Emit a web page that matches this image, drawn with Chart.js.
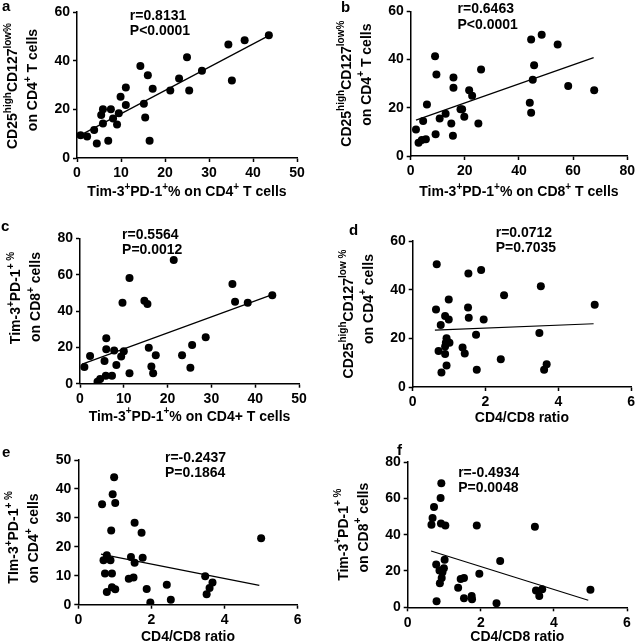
<!DOCTYPE html>
<html><head><meta charset="utf-8">
<script src="https://cdn.jsdelivr.net/npm/chart.js@4/dist/chart.umd.min.js"></script>
<style>
html,body{margin:0;padding:0;background:#fff;}
body{width:638px;height:644px;position:relative;overflow:hidden;}
canvas{position:absolute;}
</style></head><body>
<canvas id="pa"></canvas><canvas id="pb"></canvas><canvas id="pc"></canvas>
<canvas id="pd"></canvas><canvas id="pe"></canvas><canvas id="pf"></canvas>
<script>
// ---- Data ----
// a: Tim-3+PD-1+% on CD4+ T cells vs CD25high CD127low % on CD4+ T cells
const aX = [0.8,2.3,3.9,4.5,5.5,5.9,5.9,7.1,7.7,8.2,9.1,9.5,9.9,11.1,11.1,14.4,15.2,15.5,16.1,16.5,17.2,21.2,23.2,25.0,25.5,28.4,34.4,35.2,38.1,43.6];
const aY = [9.4,8.8,11.5,6.0,17.7,20.0,14.2,7.1,20.0,16.2,13.8,18.4,25.2,21.8,29.0,37.8,22.3,16.6,34.0,7.1,28.5,27.7,32.7,41.4,27.7,35.9,46.6,31.8,48.4,50.4];
const aFitX = [0.8,43.6];
const aFitY = [9.4,50.3];
// b: Tim-3+PD-1+% on CD8+ T cells vs Treg %
const bX = [1.95,2.9,4.1,4.6,5.6,6.0,9.0,9.2,9.5,10.7,12.9,15.0,15.6,15.8,15.8,18.4,19.0,19.8,21.6,22.7,25.0,26.0,44.5,44.0,44.5,45.6,45.1,48.4,54.3,58.2,67.8];
const bY = [11.0,5.5,6.6,14.5,6.9,21.4,41.4,9.0,33.8,15.6,17.5,13.5,8.4,32.6,28.3,19.4,19.4,16.3,27.3,25.0,13.5,35.9,48.3,22.1,17.9,37.7,31.6,50.3,46.3,29.0,27.3];
const bFitX = [1.95,67.6];
const bFitY = [14.9,40.8];
// c: Tim-3+PD-1+% on CD4+ vs on CD8+
const cX = [1.0,2.3,4.0,4.6,5.6,5.9,6.0,6.0,7.3,7.8,8.3,9.4,9.7,10.0,11.3,11.3,14.7,15.4,15.7,16.3,16.7,17.3,21.4,23.3,25.2,25.6,28.7,34.8,35.4,38.3,43.9];
const cY = [9.2,15.2,1.1,2.6,12.5,4.4,25.0,18.9,4.4,18.2,10.3,14.9,44.6,17.8,58.2,5.7,45.7,43.9,19.8,9.4,5.7,15.6,68.1,15.6,8.8,21.3,25.5,54.9,45.1,44.6,48.6];
const cFitX = [0.5,43.9];
const cFitY = [10.8,49.0];
// d: CD4/CD8 ratio vs Treg %
const dX = [0.66,0.64,0.71,0.77,0.79,0.89,0.91,0.89,0.89,0.93,0.93,0.99,0.99,1.01,1.37,1.43,1.53,1.52,1.54,1.74,1.76,1.88,1.95,2.42,2.51,3.52,3.48,3.61,3.68,5.0];
const dY = [50.4,31.9,14.8,25.5,6.0,29.2,18.2,13.6,16.6,8.8,20.0,36.0,27.7,18.2,16.2,13.8,46.6,32.7,28.5,21.5,7.1,48.1,27.7,11.4,37.7,41.4,22.2,7.1,9.3,33.8];
const dFitX = [0.61,4.97];
const dFitY = [23.4,26.0];
// e: CD4/CD8 ratio vs Tim-3+PD-1+% on CD4+
const eX = [0.65,0.69,0.73,0.78,0.78,0.88,0.90,0.92,0.92,0.94,0.98,1.01,1.01,1.38,1.44,1.51,1.54,1.54,1.73,1.76,1.87,1.97,2.42,2.53,3.47,3.51,3.59,3.67,5.0];
const eY = [34.7,15.4,10.8,17.1,4.4,15.4,25.6,10.8,6.0,38.2,44.0,35.1,5.3,9.0,16.5,9.4,28.3,14.5,24.9,16.2,5.4,0.8,6.9,1.7,9.8,3.6,5.8,7.7,23.0];
const eFitX = [0.62,4.95];
const eFitY = [17.5,6.7];
// f: CD4/CD8 ratio vs Tim-3+PD-1+% on CD8+
const fX = [0.65,0.68,0.72,0.79,0.78,0.87,0.88,0.90,0.91,0.92,0.93,0.95,0.99,1.01,1.03,1.38,1.45,1.54,1.54,1.75,1.76,1.89,1.96,2.43,2.53,3.48,3.51,3.60,3.68,5.0];
const fY = [45.5,49.2,55.2,3.3,23.5,20.2,13.2,60.2,46.1,68.3,16.1,19.3,21.5,26.2,45.1,10.8,15.6,16.1,5.0,6.2,4.4,45.1,18.5,2.2,25.5,44.4,9.2,6.2,9.9,9.7];
const fFitX = [0.64,4.94];
const fFitY = [31.0,3.9];

// Axis ranges / ticks
const xMaxes = {a:50,b:80,c:50,d:6,e:6,f:6};
const xSteps = {a:10,b:20,c:10,d:2,e:2,f:2};
const yMaxes = {a:60,b:60,c:80,d:60,e:50,f:80};
const ySteps = {a:20,b:20,c:20,d:20,e:10,f:20};
// Text
const stats = {
  a:['r=0.8131','P<0.0001'], b:['r=0.6463','P<0.0001'], c:['r=0.5564','P=0.0012'],
  d:['r=0.0712','P=0.7035'], e:['r=-0.2437','P=0.1864'], f:['r=-0.4934','P=0.0048']
};
const xTitles = {
  a:'Tim-3^{+}PD-1^{+}% on CD4^{+} T cells',
  b:'Tim-3^{+}PD-1^{+}% on CD8^{+} T cells',
  c:'Tim-3^{+}PD-1^{+}% on CD4+ T cells',
  d:'CD4/CD8 ratio', e:'CD4/CD8 ratio', f:'CD4/CD8 ratio'
};
const yTitles = {
  a:['CD25^{high}CD127^{low}^{%}','on CD4^{+} T cells'],
  b:['CD25^{high}CD127^{low}^{%}','on CD4^{+} T cells'],
  c:['Tim-3^{+}PD-1^{+}^{ %}','on CD8^{+} cells'],
  d:['CD25^{high}CD127^{low}^{ %}','on CD4^{+} cells'],
  e:['TIm-3^{+}PD-1^{+}^{ %}','on CD4^{+} cells'],
  f:['Tim-3^{+}PD-1^{+}^{ %}','on CD8^{+} cells']
};

// ---- Layout (page pixels) ----
const layout = {
  a:{canvas:[0,0,320,215],  area:[77,12,297,158],   note:[12.0,58.4], xOff:34, yOff:[1,-5],  letter:[2,11]},
  b:{canvas:[320,0,318,215],area:[410.7,11,630,156],note:[17.3,60.8], xOff:36, yOff:[0,-9],  letter:[341,12]},
  c:{canvas:[0,215,320,215],area:[80,238.3,299,383.7],note:[9.6,81.8], xOff:33, yOff:[-13,-14], letter:[1,231]},
  d:{canvas:[320,215,318,215],area:[412.7,241,631.7,387],note:[2.28,63.3], xOff:31, yOff:[0,-15], letter:[349,235]},
  e:{canvas:[0,430,320,214],area:[78.3,460,297.7,604.7],note:[2.37,50.7], xOff:32, yOff:[5,6], letter:[2,457]},
  f:{canvas:[320,430,318,214],area:[407.7,462,627,607.3],note:[1.38,74.0], xOff:30, yOff:[0,-7], letter:[397,455]}
};

const FONT = '"Liberation Sans", Arial, Helvetica, sans-serif';
const MAIN = 'bold 14px ' + FONT;
const SUP = 'bold 10px ' + FONT;

function parseRich(s){
  const parts=[]; const re=/\^\{([^}]*)\}/g; let last=0,m;
  while((m=re.exec(s))){
    if(m.index>last) parts.push({t:s.slice(last,m.index),sup:false});
    parts.push({t:m[1],sup:true}); last=re.lastIndex;
  }
  if(last<s.length) parts.push({t:s.slice(last),sup:false});
  return parts;
}
function drawRich(ctx,s,cx,cy){
  const parts=parseRich(s); let w=0;
  parts.forEach(p=>{ctx.font=p.sup?SUP:MAIN; p.w=ctx.measureText(p.t).width; w+=p.w;});
  let x=cx-w/2;
  ctx.textAlign='left'; ctx.textBaseline='middle';
  parts.forEach(p=>{ctx.font=p.sup?SUP:MAIN; ctx.fillText(p.t,x,p.sup?cy-5:cy); x+=p.w;});
}

const textPlugin = {
  id:'panelText',
  afterDraw(chart){
    const o = chart.options.plugins.panelText; if(!o) return;
    const ctx = chart.ctx, ca = chart.chartArea;
    const xs = chart.scales.x, ys = chart.scales.y;
    ctx.save(); ctx.fillStyle='#000';
    // x title
    drawRich(ctx, o.xTitle, (ca.left+ca.right)/2, ca.bottom + o.xOff);
    // y title (rotated)
    const cyMid = (ca.top+ca.bottom)/2;
    [ -64, -44 ].forEach((dx,i)=>{
      ctx.save();
      ctx.translate(ca.left+dx, cyMid + o.yOff[i]);
      ctx.rotate(-Math.PI/2);
      drawRich(ctx, o.yTitle[i], 0, 0);
      ctx.restore();
    });
    // stats
    ctx.font = MAIN; ctx.textAlign='left'; ctx.textBaseline='middle';
    const nx = xs.getPixelForValue(o.note[0]), ny = ys.getPixelForValue(o.note[1]);
    o.stats.forEach((t,i)=>ctx.fillText(t, nx, ny + i*15.5));
    // panel letter
    ctx.font = 'bold 15px ' + FONT; ctx.textBaseline='alphabetic';
    ctx.fillText(o.letterText, o.letter[0], o.letter[1]);
    ctx.restore();
  }
};

function makePanel(key, xs, ys, fx, fy){
  const L = layout[key];
  const [cl,ct,cw,ch] = L.canvas;
  const [al,at,ar,ab] = L.area;
  const cv = document.getElementById('p'+key);
  cv.width = cw; cv.height = ch;
  cv.style.left = cl+'px'; cv.style.top = ct+'px';
  cv.style.width = cw+'px'; cv.style.height = ch+'px';
  const pts = xs.map((x,i)=>({x, y:ys[i]}));
  const fit = fx.map((x,i)=>({x, y:fy[i]}));
  const axisCommon = {
    type:'linear', min:0,
    border:{display:true,color:'#000',width:1.5},
    grid:{display:true,drawOnChartArea:false,drawTicks:true,tickLength:4,tickColor:'#000',tickWidth:1.5},
    ticks:{color:'#000',font:{family:FONT,size:14,weight:'bold'},padding:3}
  };
  new Chart(cv, {
    type:'scatter',
    data:{datasets:[
      {type:'scatter', data:pts, pointRadius:4, pointHoverRadius:4, backgroundColor:'#000', borderWidth:0},
      {type:'line', data:fit, borderColor:'#000', borderWidth:1.2, pointRadius:0, fill:false, tension:0}
    ]},
    options:{
      responsive:false, animation:false, devicePixelRatio:1,
      layout:{padding:{left:0, top: at-ct, right: (cl+cw)-ar, bottom:0}},
      plugins:{legend:{display:false}, tooltip:{enabled:false},
        panelText:{xTitle:xTitles[key], yTitle:yTitles[key], xOff:L.xOff, yOff:L.yOff,
          stats:stats[key], note:L.note, letterText:key, letter:[L.letter[0]-cl, L.letter[1]-ct]}},
      scales:{
        x:Object.assign({}, axisCommon, {position:'bottom', max:xMaxes[key],
          ticks:Object.assign({}, axisCommon.ticks, {stepSize:xSteps[key]}),
          afterFit(s){ s.height = (ct+ch) - ab; }}),
        y:Object.assign({}, axisCommon, {position:'left', max:yMaxes[key],
          ticks:Object.assign({}, axisCommon.ticks, {stepSize:ySteps[key]}),
          afterFit(s){ s.width = al - cl; }})
      }
    },
    plugins:[textPlugin]
  });
}

makePanel('a', aX, aY, aFitX, aFitY);
makePanel('b', bX, bY, bFitX, bFitY);
makePanel('c', cX, cY, cFitX, cFitY);
makePanel('d', dX, dY, dFitX, dFitY);
makePanel('e', eX, eY, eFitX, eFitY);
makePanel('f', fX, fY, fFitX, fFitY);
</script>
</body></html>
